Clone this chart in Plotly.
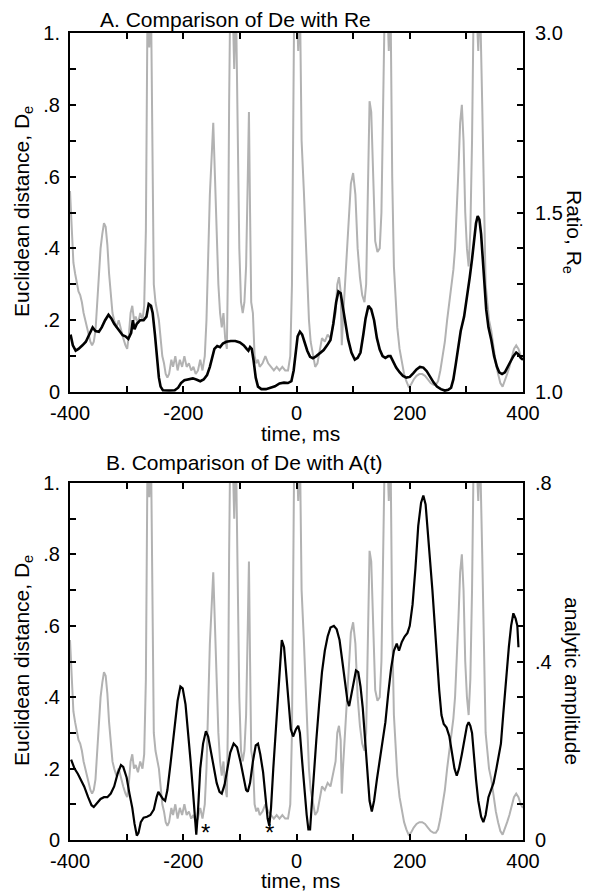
import plotly.graph_objects as go

# ---------------- data ----------------
# Euclidean distance De (grey trace, left axis, shared by both panels)
de_t = [-400,-397,-394,-391,-388,-385,-382,-379,-376,-373,-370,-367,-364,-361,-358,-355,-352,-349,-346,-343,
        -340,-337,-334,-331,-328,-325,-322,-318,-314,-310,-306,-302,-299,-296,-293,-290,-287,-284,-280,-276,
        -272,-269,-266,-263,-260,-257,-254,-252,-249,-246,-243,-240,-237,-234,-231,-228,-225,-221,-218,-214,
        -210,-206,-202,-198,-194,-190,-186,-182,-178,-174,-170,-166,-162,-159,-156,-153,-150,-147,-144,-141,
        -138,-135,-132,-129,-126,-123,-121,-119,-117,-113,-110,-107,-104,-101,-98,-95,-92,-89,-86,-84,
        -82,-80,-77,-74,-71,-68,-65,-60,-55,-50,-45,-40,-35,-30,-25,-20,-15,-11,-8,-6,
        -4,0,3,6,9,13,16,19,22,25,29,33,37,41,45,50,55,60,65,69,
        72,75,78,80,82,85,88,92,96,100,104,108,112,116,120,123,126,129,132,135,
        139,143,147,150,153,156,160,163,166,169,172,175,178,182,186,190,194,198,202,207,
        212,217,222,227,232,237,242,246,250,254,258,262,266,270,274,277,280,283,286,289,
        292,295,298,301,304,307,310,313,317,321,324,328,331,334,337,340,344,348,352,356,
        360,364,368,372,376,380,384,388,392,396,400]
de_v = [0.56,0.45,0.36,0.33,0.30,0.28,0.27,0.25,0.22,0.20,0.18,0.16,0.14,0.13,0.14,0.17,0.25,0.33,0.40,0.44,
        0.47,0.46,0.41,0.33,0.26,0.22,0.20,0.18,0.20,0.17,0.15,0.13,0.12,0.16,0.22,0.24,0.20,0.21,0.19,0.22,
        0.20,0.24,0.45,1.10,0.96,1.10,0.60,0.30,0.25,0.22,0.20,0.15,0.10,0.08,0.05,0.04,0.05,0.09,0.07,0.10,
        0.06,0.09,0.07,0.10,0.07,0.08,0.06,0.07,0.05,0.06,0.09,0.06,0.10,0.20,0.40,0.55,0.65,0.75,0.60,0.45,
        0.30,0.22,0.18,0.22,0.15,0.12,0.35,0.80,1.10,1.10,0.90,1.10,0.68,0.40,0.25,0.22,0.25,0.35,0.60,0.78,
        0.50,0.25,0.22,0.10,0.08,0.09,0.07,0.08,0.10,0.08,0.07,0.06,0.07,0.06,0.07,0.06,0.06,0.10,0.30,0.60,
        1.10,1.10,0.95,1.10,0.70,0.56,0.45,0.30,0.20,0.14,0.10,0.07,0.08,0.12,0.15,0.14,0.16,0.15,0.19,0.22,
        0.30,0.32,0.28,0.13,0.20,0.28,0.38,0.50,0.58,0.61,0.55,0.40,0.32,0.27,0.25,0.30,0.60,0.81,0.78,0.60,
        0.42,0.39,0.40,0.50,0.80,1.10,1.10,0.95,1.10,0.60,0.35,0.25,0.18,0.12,0.08,0.05,0.03,0.015,0.02,0.035,
        0.045,0.05,0.05,0.045,0.035,0.025,0.02,0.02,0.03,0.06,0.10,0.14,0.20,0.25,0.30,0.34,0.40,0.50,0.62,0.75,
        0.80,0.70,0.50,0.40,0.35,0.45,0.70,1.10,1.10,0.95,1.10,0.80,0.50,0.30,0.25,0.20,0.17,0.12,0.08,0.05,
        0.025,0.015,0.03,0.05,0.07,0.10,0.12,0.13,0.12,0.10,0.09]

# Ratio Re (black trace, panel A) given as position on the right axis (1.0 -> 0, 1.5 -> 0.5, 3.0 -> 1)
re_t = [-399,-395,-390,-385,-378,-372,-366,-360,-355,-349,-344,-338,-332,-327,-322,-317,-312,-307,-302,-297,
        -292,-289,-286,-282,-276,-270,-265,-261,-257,-254,-250,-246,-243,-240,-236,-225,-215,-209,-204,-198,
        -190,-183,-176,-170,-164,-158,-153,-149,-145,-140,-135,-130,-124,-116,-108,-100,-93,-88,-85,-82,
        -79,-76,-72,-68,-62,-54,-46,-38,-30,-22,-15,-9,-5,-2,2,6,10,14,19,24,
        29,35,42,48,54,60,65,70,74,78,82,86,91,97,103,108,113,118,122,127,
        132,137,142,147,152,157,162,166,171,176,182,188,194,200,206,212,218,224,230,236,
        242,248,255,262,268,273,277,281,285,290,296,301,306,310,314,317,320,323,326,329,
        332,335,339,344,349,354,358,363,368,373,378,383,388,392,396,400]
re_pos = [0.16,0.13,0.115,0.12,0.13,0.14,0.16,0.18,0.17,0.168,0.18,0.20,0.215,0.205,0.19,0.18,0.17,0.158,0.155,0.148,
          0.165,0.20,0.175,0.19,0.20,0.20,0.21,0.245,0.24,0.22,0.16,0.09,0.04,0.015,0.005,0.004,0.005,0.012,0.025,0.033,
          0.036,0.038,0.034,0.03,0.035,0.047,0.07,0.095,0.12,0.128,0.125,0.135,0.14,0.142,0.142,0.138,0.13,0.12,0.115,0.125,
          0.12,0.09,0.04,0.015,0.008,0.008,0.012,0.016,0.024,0.026,0.025,0.03,0.06,0.11,0.155,0.168,0.16,0.14,0.115,0.098,
          0.094,0.10,0.108,0.117,0.13,0.145,0.19,0.25,0.28,0.275,0.235,0.19,0.148,0.11,0.09,0.095,0.11,0.16,0.205,0.24,
          0.23,0.20,0.15,0.118,0.10,0.095,0.10,0.10,0.085,0.068,0.055,0.045,0.04,0.042,0.052,0.063,0.07,0.068,0.058,0.042,
          0.027,0.015,0.008,0.004,0.006,0.012,0.035,0.075,0.12,0.17,0.21,0.26,0.32,0.37,0.43,0.47,0.49,0.48,0.44,0.37,
          0.29,0.23,0.18,0.145,0.10,0.07,0.055,0.05,0.055,0.068,0.085,0.10,0.11,0.105,0.095,0.09]

# Analytic amplitude A(t) (black trace, panel B, right axis 0 - .8)
amp_t = [-398,-392,-386,-380,-375,-368,-362,-358,-352,-346,-340,-334,-328,-322,-316,-310,-306,-300,-295,-290,
         -286,-282,-279,-275,-270,-264,-258,-252,-247,-244,-240,-236,-232,-228,-222,-216,-210,-205,-201,-196,
         -191,-187,-183,-180,-177,-174,-170,-165,-160,-156,-151,-146,-141,-136,-132,-127,-122,-117,-111,-105,
         -99,-94,-89,-86,-82,-77,-72,-68,-64,-59,-55,-51,-48,-45,-41,-37,-33,-30,-26,-22,
         -18,-14,-10,-6,-1,3,6,10,14,18,21,24,27,31,35,40,45,50,55,60,
         66,71,76,81,86,90,93,97,101,105,109,113,117,121,125,129,133,137,142,147,
         152,157,162,167,172,177,181,186,191,196,200,205,210,215,220,224,228,232,236,240,
         244,248,252,256,260,265,270,274,279,283,287,292,297,301,304,307,310,313,317,321,
         326,330,334,339,344,348,353,357,361,365,370,375,379,383,387,390,392]
amp_v = [0.18,0.16,0.148,0.132,0.12,0.096,0.078,0.074,0.084,0.092,0.096,0.096,0.104,0.12,0.148,0.168,0.164,0.14,0.104,0.072,
         0.036,0.01,0.016,0.04,0.05,0.052,0.056,0.068,0.096,0.108,0.10,0.092,0.088,0.112,0.176,0.24,0.312,0.344,0.34,0.304,
         0.24,0.176,0.112,0.056,0.012,0.064,0.16,0.216,0.244,0.232,0.20,0.16,0.128,0.108,0.104,0.124,0.16,0.196,0.216,0.208,
         0.176,0.144,0.112,0.108,0.128,0.176,0.212,0.216,0.192,0.152,0.096,0.048,0.032,0.072,0.16,0.24,0.32,0.392,0.448,0.432,
         0.376,0.304,0.248,0.232,0.248,0.256,0.24,0.176,0.104,0.056,0.024,0.024,0.08,0.16,0.224,0.304,0.376,0.424,0.456,0.476,
         0.48,0.472,0.448,0.40,0.344,0.312,0.30,0.328,0.36,0.38,0.376,0.344,0.296,0.224,0.144,0.088,0.064,0.088,0.136,0.176,
         0.216,0.264,0.328,0.384,0.424,0.44,0.424,0.444,0.456,0.464,0.48,0.528,0.608,0.704,0.756,0.772,0.752,0.696,0.624,0.56,
         0.48,0.40,0.336,0.28,0.26,0.252,0.232,0.20,0.16,0.144,0.16,0.192,0.224,0.256,0.264,0.256,0.24,0.192,0.136,0.088,
         0.052,0.04,0.056,0.096,0.116,0.128,0.16,0.184,0.216,0.28,0.36,0.432,0.48,0.508,0.496,0.48,0.432]

# marked minima (asterisks) in panel B
star_t = [-161, -47]

x_tickvals = [-400, -300, -200, -100, 0, 100, 200, 300, 400]
x_ticktext = ["-400", "", "-200", "", "0", "", "200", "", "400"]
de_tickvals = [0, 0.1, 0.2, 0.3, 0.4, 0.5, 0.6, 0.7, 0.8, 0.9, 1.0]
de_ticktext = ["0", "", ".2", "", ".4", "", ".6", "", ".8", "", "1."]
re_tickvals = [0, 0.1, 0.2, 0.3, 0.4, 0.5, 0.6, 0.7, 0.8, 0.9, 1.0]
re_ticktext = ["1.0", "", "", "", "", "1.5", "", "", "", "", "3.0"]
amp_tickvals = [0, 0.08, 0.16, 0.24, 0.32, 0.4, 0.48, 0.56, 0.64, 0.72, 0.8]
amp_ticktext = ["0", "", "", "", "", ".4", "", "", "", "", ".8"]

# ---------------- figure ----------------
# the page body has an 8px margin, so the figure is 8px smaller and layout positions are shifted
OFF = 8
W, H = 591 - OFF, 895 - OFF
FONT = "Liberation Sans, Arial, Helvetica, sans-serif"
GREY = "#b2b2b2"

def px_x(p):
    return (p - OFF) / W

def px_y(p):
    return 1 - (p - OFF) / H

xdom = [px_x(70), px_x(523)]
domA = [px_y(392), px_y(33)]
domB = [px_y(840), px_y(483)]

fig = go.Figure()
fig.add_trace(go.Scatter(x=de_t, y=de_v, mode="lines", line=dict(color=GREY, width=2),
                         xaxis="x", yaxis="y", showlegend=False))
fig.add_trace(go.Scatter(x=re_t, y=re_pos, mode="lines", line=dict(color="black", width=2.6),
                         xaxis="x", yaxis="y2", showlegend=False))
fig.add_trace(go.Scatter(x=de_t, y=de_v, mode="lines", line=dict(color=GREY, width=2),
                         xaxis="x2", yaxis="y3", showlegend=False))
fig.add_trace(go.Scatter(x=amp_t, y=amp_v, mode="lines", line=dict(color="black", width=2.2),
                         xaxis="x2", yaxis="y4", showlegend=False))

tickfont = dict(family=FONT, size=20, color="black")
common_ax = dict(showgrid=False, zeroline=False, showline=True, linecolor="black", linewidth=2,
                 ticks="inside", ticklen=6, tickwidth=2, tickcolor="black", tickfont=tickfont,
                 automargin=False)

xax = dict(common_ax, range=[-400, 400], tickmode="array", tickvals=x_tickvals, ticktext=x_ticktext,
           mirror="ticks", domain=xdom, ticklabelstandoff=2)
fig.update_layout(
    template="none",
    xaxis=dict(xax, anchor="y"),
    xaxis2=dict(xax, anchor="y3"),
    yaxis=dict(common_ax, range=[0, 1], domain=domA, anchor="x", tickmode="array",
               tickvals=de_tickvals, ticktext=de_ticktext, ticklabelstandoff=4),
    yaxis2=dict(common_ax, range=[0, 1], overlaying="y", side="right", anchor="x", tickmode="array",
                tickvals=re_tickvals, ticktext=re_ticktext, ticklabelstandoff=6),
    yaxis3=dict(common_ax, range=[0, 1], domain=domB, anchor="x2", tickmode="array",
                tickvals=de_tickvals, ticktext=de_ticktext, ticklabelstandoff=4),
    yaxis4=dict(common_ax, range=[0, 0.8], overlaying="y3", side="right", anchor="x2", tickmode="array",
                tickvals=amp_tickvals, ticktext=amp_ticktext, ticklabelstandoff=6),
    width=W, height=H, margin=dict(l=0, r=0, t=0, b=0, autoexpand=False),
    paper_bgcolor="white", plot_bgcolor="white",
    font=dict(family=FONT, color="black"),
    showlegend=False,
)

def ann(text, x, y, size, angle=0, xref="paper", yref="paper", **kw):
    fig.add_annotation(text=text, x=x, y=y, xref=xref, yref=yref, showarrow=False,
                       textangle=angle, font=dict(family=FONT, size=size, color="black"),
                       xanchor="center", yanchor="middle", **kw)

ann("A. Comparison of De with Re", px_x(235), px_y(19), 21)
ann("B. Comparison of De with A(t)", px_x(244), px_y(463), 21)
ann("time, ms", px_x(300), px_y(433), 21)
ann("time, ms", px_x(300), px_y(880), 21)
ann("Euclidean distance, D<sub>e</sub>", px_x(23), px_y(212), 21, angle=-90)
ann("Euclidean distance, D<sub>e</sub>", px_x(23), px_y(661), 21, angle=-90)
ann("Ratio, R<sub>e</sub>", px_x(573), px_y(232), 21, angle=90)
ann("analytic amplitude", px_x(573), px_y(681), 21, angle=90)
for st in star_t:
    fig.add_annotation(text="*", x=st, y=0.02, xref="x2", yref="y3", showarrow=False,
                       font=dict(family=FONT, size=24, color="black"), xanchor="center", yanchor="middle")

fig.write_html("out.html")
